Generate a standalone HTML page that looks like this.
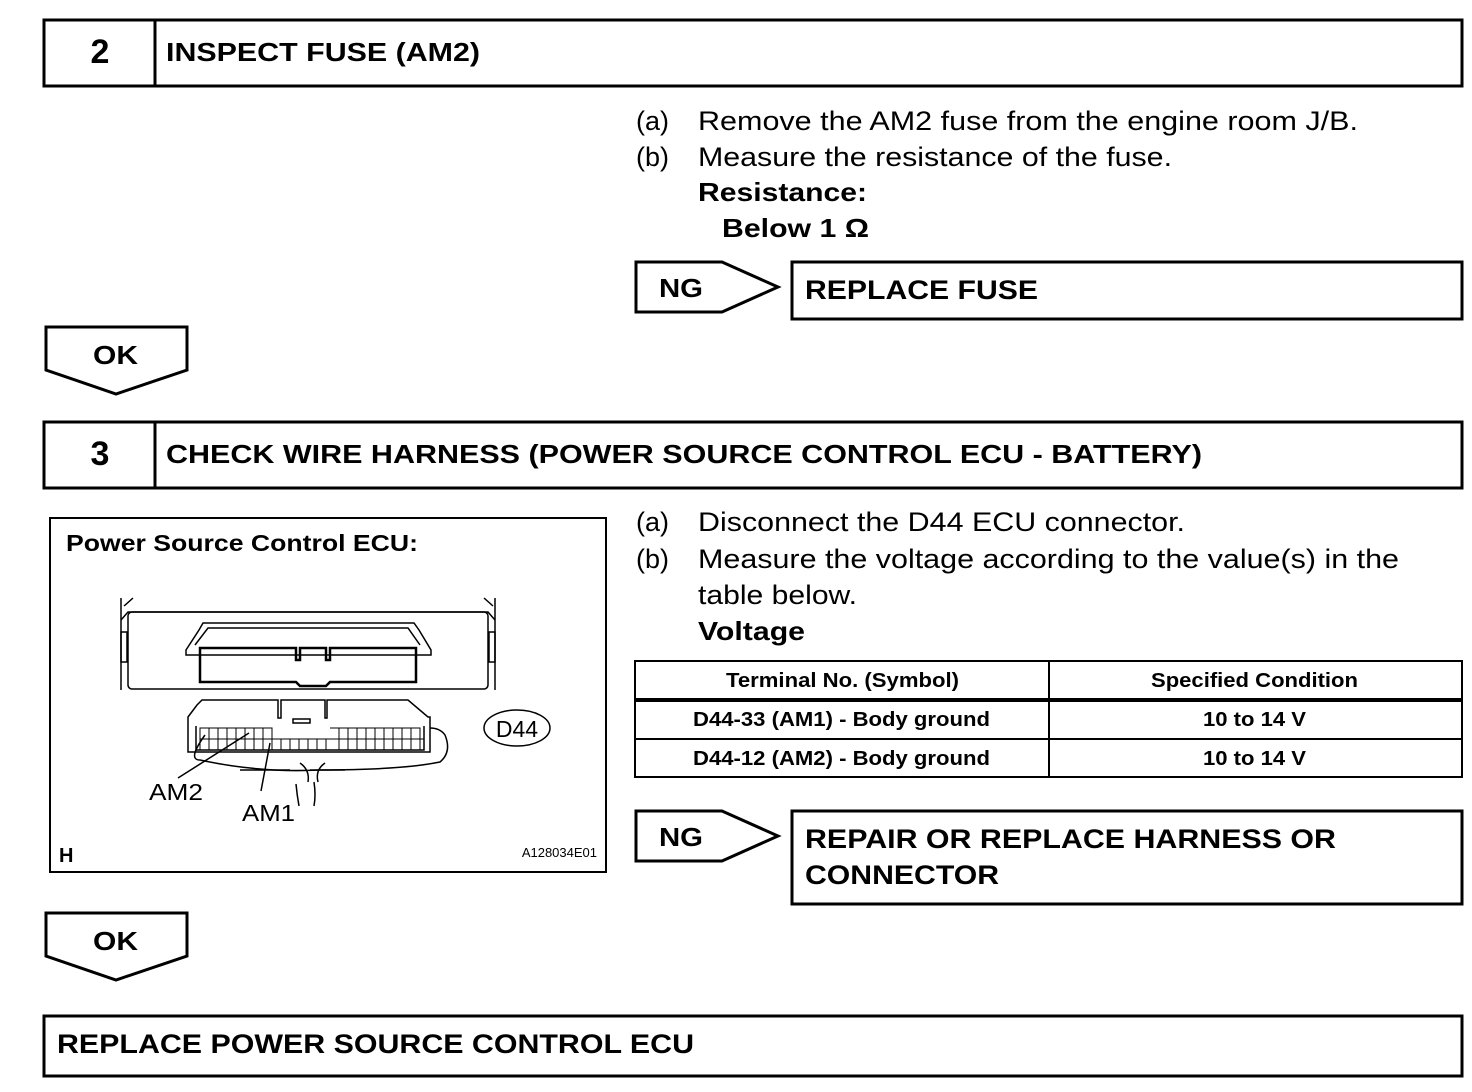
<!DOCTYPE html>
<html><head><meta charset="utf-8"><style>
html,body{margin:0;padding:0;background:#fff;}
svg{display:block;font-family:"Liberation Sans",Arial,sans-serif;}
.b{font-weight:bold;}
</style></head><body>
<svg width="1472" height="1092" viewBox="0 0 1472 1092" xmlns="http://www.w3.org/2000/svg">
<g fill="none" stroke="#000" stroke-width="3">
<rect x="44" y="20" width="1418" height="66"/>
<line x1="155" y1="20" x2="155" y2="86"/>
<rect x="44" y="422" width="1418" height="66"/>
<line x1="155" y1="422" x2="155" y2="488"/>
<polygon points="636,262 722,262 778,287 722,312 636,312"/>
<rect x="792" y="262" width="670" height="57"/>
<polygon points="46,327 187,327 187,370 116,394 46,370"/>
<polygon points="636,811 722,811 778,836 722,861 636,861"/>
<rect x="792" y="811" width="670" height="93"/>
<polygon points="46,913 187,913 187,956 116,980 46,956"/>
<rect x="44" y="1016" width="1418" height="60"/>
</g>
<g fill="#000" lengthAdjust="spacingAndGlyphs">
<text x="100" y="63" font-size="34" class="b" text-anchor="middle">2</text>
<text x="166" y="61" font-size="26" class="b" textLength="314" lengthAdjust="spacingAndGlyphs">INSPECT FUSE (AM2)</text>
<text x="636" y="130" font-size="27">(a)</text>
<text x="698" y="130" font-size="27" textLength="660" lengthAdjust="spacingAndGlyphs">Remove the AM2 fuse from the engine room J/B.</text>
<text x="636" y="166" font-size="27">(b)</text>
<text x="698" y="166" font-size="27" textLength="474" lengthAdjust="spacingAndGlyphs">Measure the resistance of the fuse.</text>
<text x="698" y="201" font-size="26" class="b" textLength="169" lengthAdjust="spacingAndGlyphs">Resistance:</text>
<text x="722" y="237" font-size="26" class="b" textLength="147" lengthAdjust="spacingAndGlyphs">Below 1 Ω</text>
<text x="659" y="297" font-size="26" class="b" textLength="44" lengthAdjust="spacingAndGlyphs">NG</text>
<text x="805" y="299" font-size="27" class="b" textLength="233" lengthAdjust="spacingAndGlyphs">REPLACE FUSE</text>
<text x="93" y="364" font-size="26" class="b" textLength="45" lengthAdjust="spacingAndGlyphs">OK</text>
<text x="100" y="465" font-size="34" class="b" text-anchor="middle">3</text>
<text x="166" y="463" font-size="26" class="b" textLength="1036" lengthAdjust="spacingAndGlyphs">CHECK WIRE HARNESS (POWER SOURCE CONTROL ECU - BATTERY)</text>
<text x="636" y="531" font-size="27">(a)</text>
<text x="698" y="531" font-size="27" textLength="487" lengthAdjust="spacingAndGlyphs">Disconnect the D44 ECU connector.</text>
<text x="636" y="568" font-size="27">(b)</text>
<text x="698" y="568" font-size="27" textLength="701" lengthAdjust="spacingAndGlyphs">Measure the voltage according to the value(s) in the</text>
<text x="698" y="604" font-size="27" textLength="159" lengthAdjust="spacingAndGlyphs">table below.</text>
<text x="698" y="640" font-size="26" class="b" textLength="107" lengthAdjust="spacingAndGlyphs">Voltage</text>
<text x="659" y="846" font-size="26" class="b" textLength="44" lengthAdjust="spacingAndGlyphs">NG</text>
<text x="805" y="848" font-size="27" class="b" textLength="531" lengthAdjust="spacingAndGlyphs">REPAIR OR REPLACE HARNESS OR</text>
<text x="805" y="884" font-size="27" class="b" textLength="194" lengthAdjust="spacingAndGlyphs">CONNECTOR</text>
<text x="93" y="950" font-size="26" class="b" textLength="45" lengthAdjust="spacingAndGlyphs">OK</text>
<text x="57" y="1053" font-size="27" class="b" textLength="637" lengthAdjust="spacingAndGlyphs">REPLACE POWER SOURCE CONTROL ECU</text>
</g>
<!-- table -->
<g fill="none" stroke="#000" stroke-width="2">
<rect x="635" y="661" width="827" height="116"/>
<line x1="635" y1="699" x2="1462" y2="699"/>
<line x1="635" y1="701" x2="1462" y2="701"/>
<line x1="635" y1="739" x2="1462" y2="739"/>
<line x1="1049" y1="661" x2="1049" y2="777"/>
</g>
<g fill="#000" font-size="20" class="b">
<text x="726" y="687" textLength="233" lengthAdjust="spacingAndGlyphs">Terminal No. (Symbol)</text>
<text x="1151" y="687" textLength="207" lengthAdjust="spacingAndGlyphs">Specified Condition</text>
<text x="693" y="726" textLength="297" lengthAdjust="spacingAndGlyphs">D44-33 (AM1) - Body ground</text>
<text x="1203" y="726" textLength="103" lengthAdjust="spacingAndGlyphs">10 to 14 V</text>
<text x="693" y="765" textLength="297" lengthAdjust="spacingAndGlyphs">D44-12 (AM2) - Body ground</text>
<text x="1203" y="765" textLength="103" lengthAdjust="spacingAndGlyphs">10 to 14 V</text>
</g>
<!-- illustration -->
<rect x="50" y="518" width="556" height="354" fill="none" stroke="#000" stroke-width="2"/>
<text x="66" y="551" font-size="23" class="b" textLength="352" lengthAdjust="spacingAndGlyphs">Power Source Control ECU:</text>
<text x="59" y="862" font-size="20" class="b">H</text>
<text x="597" y="857" font-size="13" text-anchor="end">A128034E01</text>
<g fill="none" stroke="#000" stroke-width="1.5">
<path d="M121,598 V690 M495,598 V690"/>
<path d="M121,620 L128,612 H488 L495,620"/>
<path d="M124,606 L133,598 M493,606 L484,598"/>
<rect x="128" y="612" width="360" height="77" rx="4"/>
<rect x="121" y="632" width="6" height="30"/>
<rect x="489" y="632" width="6" height="30"/>
<path d="M186,650 L199,630 L203,623 H414 L419,630 L431,650 L431,655 H186 Z"/>
<path d="M195,645 L208,628 H408 L420,645"/>
<path d="M200,648 H296 V660 H300 V648 H326 V660 H330 V648 H416 V682 H330 L326,686 H300 L296,682 H200 Z" stroke-width="2.5"/>
<path d="M188,717 L197,705 L202,700 H278 V718 H281 V700 H325 V718 H327 V700 H408 L428,717 H430 V752 H188 Z"/>
<rect x="293" y="719" width="17" height="4"/>
<path d="M196,726 V750 H424 V726"/>
<path d="M205,735 Q187,760 200,760 Q260,773 320,770 Q400,770 440,762 Q452,752 445,735 Q440,728 430,728" />
<path d="M240,770 H290 M310,770 H345"/>
<path d="M300,763 Q310,770 308,782 M325,763 Q315,770 318,782"/>
<path d="M296,784 Q297,795 299,806 M314,782 Q316,795 314,806"/>
<ellipse cx="517" cy="728" rx="33" ry="18"/>
</g>
<g stroke="#000" stroke-width="1">
<path d="M200,728 H272 V750 H200 Z M200,739 H424 M330,728 H420 V750 M272,739 H330" fill="none"/>
<path d="M209,728V750M218,728V750M227,728V750M236,728V750M245,728V750M254,728V750M263,728V750M281,739V750M290,739V750M299,739V750M308,739V750M317,739V750M326,739V750M339,728V750M348,728V750M357,728V750M366,728V750M375,728V750M384,728V750M393,728V750M402,728V750M411,728V750"/>
<path d="M249,733 L178,778 M270,743 L261,791" stroke-width="1.5"/>
</g>
<g fill="#000" font-size="23">
<text x="149" y="800" textLength="54" lengthAdjust="spacingAndGlyphs">AM2</text>
<text x="242" y="821" textLength="53" lengthAdjust="spacingAndGlyphs">AM1</text>
<text x="517" y="737" text-anchor="middle">D44</text>
</g>
</svg>
</body></html>
